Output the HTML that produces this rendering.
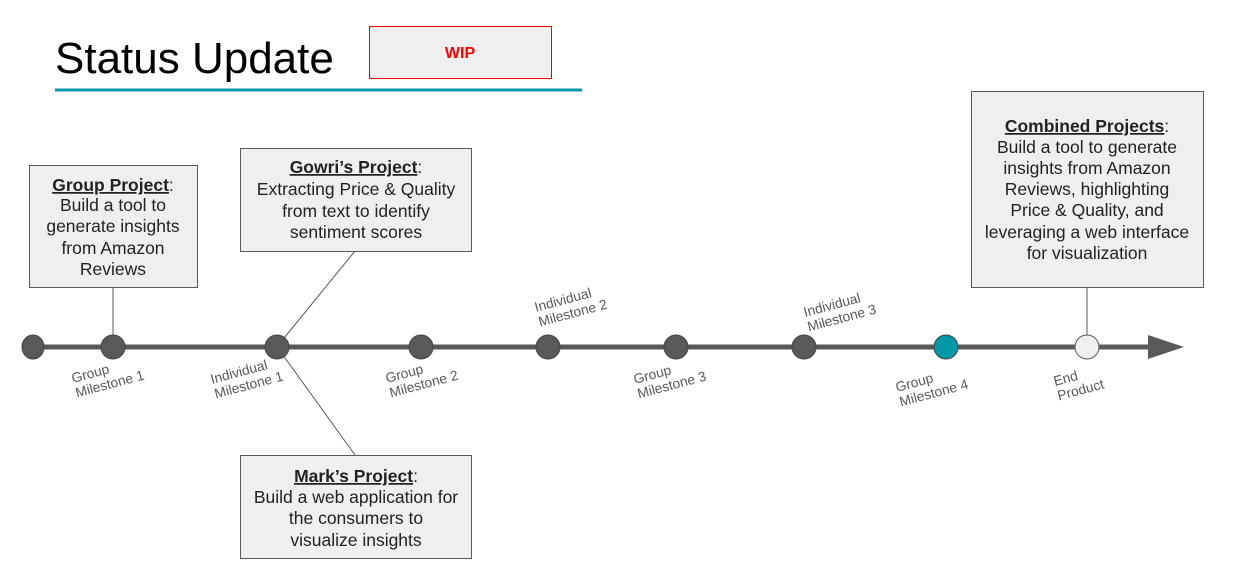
<!DOCTYPE html>
<html><head><meta charset="utf-8"><style>
body{margin:0;background:#fff;width:1258px;height:571px;overflow:hidden}
svg{display:block;font-family:"Liberation Sans",Arial,sans-serif}
.bt{font-size:17.5px;fill:#222;text-anchor:middle}
.lb{font-size:13.8px;fill:#595959}
.bx{fill:#efefef;stroke:#595959;stroke-width:1}
</style></head><body>
<svg width="1258" height="571" viewBox="0 0 1258 571">
<text x="55" y="73" font-size="44" fill="#000">Status Update</text>
<rect x="55" y="88.5" width="527" height="3" fill="#0097a7"/>
<rect x="369.5" y="26.5" width="182" height="52" fill="#efefef" stroke="#e00" stroke-width="1"/>
<text x="460" y="58" font-size="16" font-weight="bold" fill="#f00" text-anchor="middle">WIP</text>

<line x1="113" y1="287" x2="113" y2="347" stroke="#595959"/>
<line x1="355" y1="251" x2="280" y2="343" stroke="#595959"/>
<line x1="280" y1="351" x2="355" y2="455" stroke="#595959"/>
<line x1="1087" y1="287" x2="1087" y2="340" stroke="#595959"/>

<line x1="33" y1="347" x2="1152" y2="347" stroke="#595959" stroke-width="5"/>
<polygon points="1148,335 1184,347 1148,359" fill="#595959"/>
<g fill="#595959" stroke="#444" stroke-width="1">
<ellipse cx="33" cy="347" rx="11" ry="12"/>
<ellipse cx="113" cy="347" rx="12" ry="12"/>
<ellipse cx="277" cy="347" rx="12" ry="12"/>
<ellipse cx="421" cy="347" rx="12" ry="12"/>
<ellipse cx="548" cy="347" rx="12" ry="12"/>
<ellipse cx="676" cy="347" rx="12" ry="12"/>
<ellipse cx="804" cy="347" rx="12" ry="12"/>
</g>
<ellipse cx="946" cy="347" rx="12" ry="12" fill="#0097a7" stroke="#444"/>
<ellipse cx="1087" cy="347" rx="12" ry="12" fill="#efefef" stroke="#595959"/>

<g class="lb">
<text transform="translate(73,383) rotate(-15)"><tspan x="0">Group</tspan><tspan x="0" dy="15">Milestone 1</tspan></text>
<text transform="translate(212,384) rotate(-15)"><tspan x="0">Individual</tspan><tspan x="0" dy="15">Milestone 1</tspan></text>
<text transform="translate(387,383) rotate(-15)"><tspan x="0">Group</tspan><tspan x="0" dy="15">Milestone 2</tspan></text>
<text transform="translate(536,312) rotate(-15)"><tspan x="0">Individual</tspan><tspan x="0" dy="15">Milestone 2</tspan></text>
<text transform="translate(635,384) rotate(-15)"><tspan x="0">Group</tspan><tspan x="0" dy="15">Milestone 3</tspan></text>
<text transform="translate(805,317) rotate(-15)"><tspan x="0">Individual</tspan><tspan x="0" dy="15">Milestone 3</tspan></text>
<text transform="translate(897,392) rotate(-15)"><tspan x="0">Group</tspan><tspan x="0" dy="15">Milestone 4</tspan></text>
<text transform="translate(1055,386) rotate(-15)"><tspan x="0">End</tspan><tspan x="0" dy="15">Product</tspan></text>
</g>

<rect class="bx" x="29.5" y="165.5" width="168" height="122"/>
<text class="bt"><tspan x="113" y="191"><tspan font-weight="bold" text-decoration="underline">Group Project</tspan>:</tspan><tspan x="113" y="211">Build a tool to</tspan><tspan x="113" y="232">generate insights</tspan><tspan x="113" y="254">from Amazon</tspan><tspan x="113" y="275">Reviews</tspan></text>

<rect class="bx" x="240.5" y="148.5" width="231" height="103"/>
<text class="bt"><tspan x="356" y="173"><tspan font-weight="bold" text-decoration="underline">Gowri’s Project</tspan>:</tspan><tspan x="356" y="195">Extracting Price &amp; Quality</tspan><tspan x="356" y="217">from text to identify</tspan><tspan x="356" y="238">sentiment scores</tspan></text>

<rect class="bx" x="240.5" y="455.5" width="231" height="103"/>
<text class="bt"><tspan x="356" y="482"><tspan font-weight="bold" text-decoration="underline">Mark’s Project</tspan>:</tspan><tspan x="356" y="503">Build a web application for</tspan><tspan x="356" y="524">the consumers to</tspan><tspan x="356" y="546">visualize insights</tspan></text>

<rect class="bx" x="971.5" y="91.5" width="232" height="196"/>
<text class="bt"><tspan x="1087" y="132"><tspan font-weight="bold" text-decoration="underline">Combined Projects</tspan>:</tspan><tspan x="1087" y="153">Build a tool to generate</tspan><tspan x="1087" y="174">insights from Amazon</tspan><tspan x="1087" y="195">Reviews, highlighting</tspan><tspan x="1087" y="216">Price &amp; Quality, and</tspan><tspan x="1087" y="238">leveraging a web interface</tspan><tspan x="1087" y="259">for visualization</tspan></text>
</svg>
</body></html>
